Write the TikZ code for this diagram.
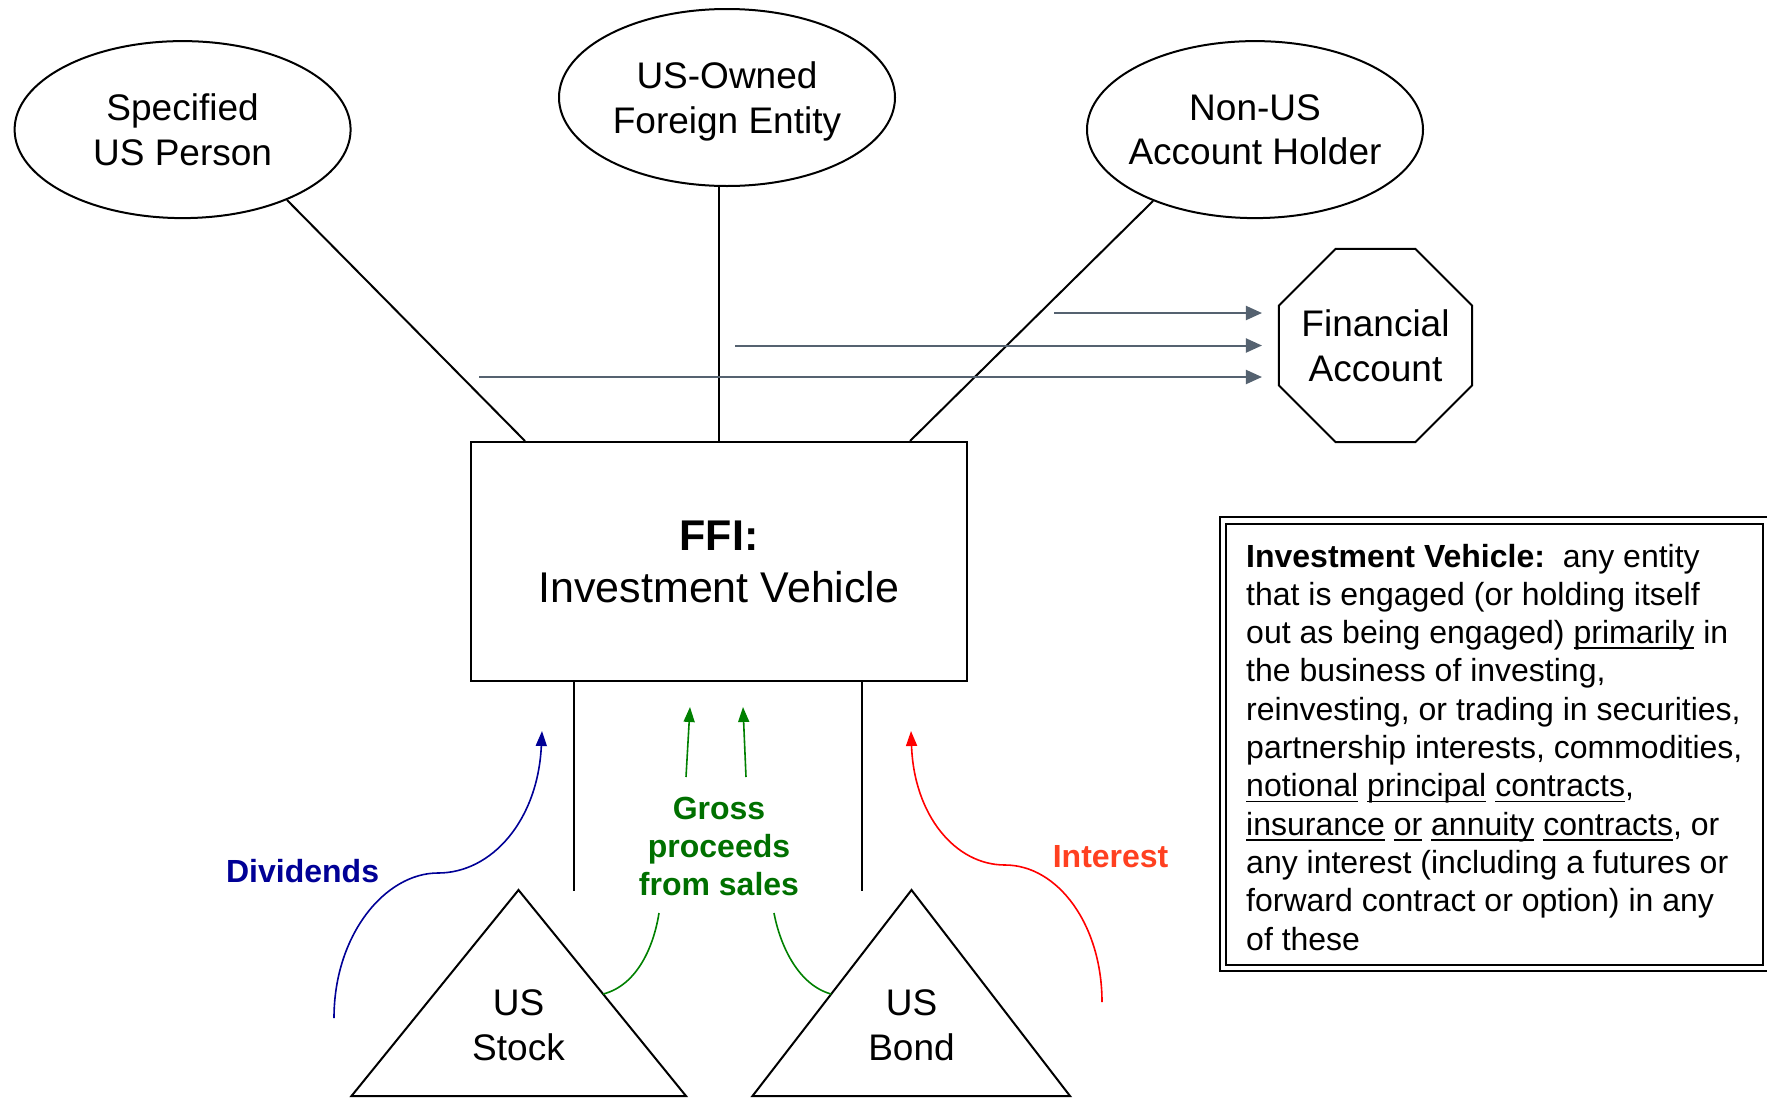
\documentclass[tikz,border=0pt]{standalone}
\usepackage{fontspec}
\setmainfont{Liberation Sans}
\usetikzlibrary{shapes.geometric,arrows.meta,calc}
\definecolor{arrowgray}{RGB}{85,98,112}
\definecolor{divblue}{RGB}{0,0,150}
\definecolor{grosstext}{RGB}{0,112,0}
\definecolor{grossline}{RGB}{0,128,0}
\definecolor{inttext}{RGB}{255,64,32}
\definecolor{intline}{RGB}{255,0,0}
\newcommand\myul[1]{\leavevmode\setbox0\hbox{#1}\rlap{\rule[-5.5pt]{\wd0}{1.8pt}}\box0\relax}
\begin{document}
\begin{tikzpicture}[x=1pt,y=-1pt,
  shapeline/.style={draw=black,line width=2pt},
  ent/.style={ellipse, shapeline, minimum width=336pt, minimum height=177pt, inner xsep=-30pt, inner ysep=0pt, align=center, font=\fontsize{37}{44.5}\selectfont},
  conn/.style={draw=black,line width=2pt},
  grayarr/.style={draw=arrowgray,line width=2pt,-{Triangle[length=16pt,width=14pt]}},
  curvearr/.style={line width=1.6pt,-{Triangle[length=15pt,width=11pt]}},
  lbl/.style={font=\fontsize{32}{38}\selectfont\bfseries, align=center, inner sep=0pt},
  tritext/.style={font=\fontsize{37}{45}\selectfont, align=center, inner sep=0pt}
]
\useasboundingbox (0,0) rectangle (1767,1098);

% entities
\node[ent] (spec) at (182.6,129.6) {Specified\\US Person};
\node[ent] (usof) at (727,97.5) {US-Owned\\\smash{Foreign Entity}};
\node[ent] (nonus) at (1255,129.6) {Non-US\\Account Holder};

% FFI box
\node[shapeline, rectangle, minimum width=496pt, minimum height=239pt, inner sep=0pt, align=center,
      font=\fontsize{43}{52}\selectfont] (ffi) at (719,561.5) {\textbf{FFI:}\\Investment Vehicle};

% Financial account octagon
\node[shapeline, regular polygon, regular polygon sides=8, minimum size=209pt, inner sep=-14pt, align=center,
      font=\fontsize{37}{45}\selectfont] (fa) at (1375.5,345.5) {Financial\\Account};

% connectors entities -> FFI
\draw[conn] (spec.-34.4) -- ($(ffi.north west)+(55,0)$);
\draw[conn] (ffi.north |- usof.south) -- (ffi.north);
\draw[conn] (nonus.-145.4) -- ($(ffi.north west)+(440,0)$);

% gray arrows to financial account
\coordinate (g1) at (1054,313);
\coordinate (g2) at (735,345.5);
\coordinate (g3) at (479,377);
\draw[grayarr] (g1) -- ($(g1 -| fa.west)+(-16,0)$);
\draw[grayarr] (g2) -- ($(g2 -| fa.west)+(-16,0)$);
\draw[grayarr] (g3) -- ($(g3 -| fa.west)+(-16,0)$);

% vertical lines below FFI
\draw[conn] ($(ffi.south west)+(104,0)$) -- ++(0,209);
\draw[conn] ($(ffi.south west)+(392,0)$) -- ++(0,209);

% triangles
\coordinate (stA) at (518.5,890);
\coordinate (stL) at (351.5,1096);
\coordinate (stR) at (686,1096);
\coordinate (bdA) at (911.5,890);
\coordinate (bdL) at (752.5,1096);
\coordinate (bdR) at (1070,1096);
\draw[conn, line join=miter] (stA) -- (stL) -- (stR) -- cycle;
\draw[conn, line join=miter] (bdA) -- (bdL) -- (bdR) -- cycle;
\node[tritext] (stock) at (518.5,1025.5) {US\\Stock};
\node[tritext] (bond) at (911.5,1025.5) {US\\Bond};

% definition box
\node[draw=black, line width=2pt, double=white, double distance=4.5pt, rectangle,
      minimum width=543.3pt, minimum height=447.5pt, inner sep=0pt] (defbox) at (1494.65,744.25) {};
\node[anchor=north west, align=left, inner sep=0pt, font=\fontsize{32}{38.3}\selectfont] (deftext) at (1246,543.6) {%
\textbf{Investment Vehicle:}\ \ any entity\\
that is engaged (or holding itself\\
out as being engaged) \myul{primarily} in\\
the business of investing,\\
reinvesting, or trading in securities,\\
partnership interests, commodities,\\
\myul{notional} \myul{principal} \myul{contracts},\\
\myul{insurance} \myul{or} \myul{annuity} \myul{contracts}, or\\
any interest (including a futures or\\
forward contract or option) in any\\
of these};

% labels
\node[lbl, text=divblue] (divlbl) at (302.6,871) {Dividends};
\node[lbl, text=inttext] (intlbl) at (1110.6,856.5) {Interest};
\node[lbl, text=grosstext] (grosslbl) at (719,846) {Gross\\proceeds\\from sales};

% dividends curve
\coordinate (dv0) at (334,1018);
\coordinate (dv1) at (542,731);
\draw[curvearr, draw=divblue] (dv0) .. controls (334,935) and (385,873) .. (438,873)
  .. controls (492,873) and (538,820) .. (dv1);

% interest curve
\coordinate (in0) at (1102,1002);
\coordinate (in1) at (911,731);
\draw[curvearr, draw=intline] (in0) .. controls (1102,925) and (1058,865) .. (1005,865)
  .. controls (955,865) and (914,815) .. (in1);

% gross proceeds curves
\coordinate (gl0) at ($(stA)!0.505!(stR)$);
\coordinate (gl1) at (659,913);
\coordinate (gr0) at ($(bdA)!0.505!(bdL)$);
\coordinate (gr1) at (774,913);
\draw[draw=grossline, line width=1.6pt] (gl0) .. controls (638,985) and (654,945) .. (gl1);
\draw[draw=grossline, line width=1.6pt] (gr0) .. controls (798,985) and (780,945) .. (gr1);
\coordinate (ga0) at (686,777);
\coordinate (ga1) at (690,707);
\coordinate (gb0) at (746,777);
\coordinate (gb1) at (743,707);
\draw[curvearr, draw=grossline] (ga0) -- (ga1);
\draw[curvearr, draw=grossline] (gb0) -- (gb1);
\end{tikzpicture}
\end{document}
